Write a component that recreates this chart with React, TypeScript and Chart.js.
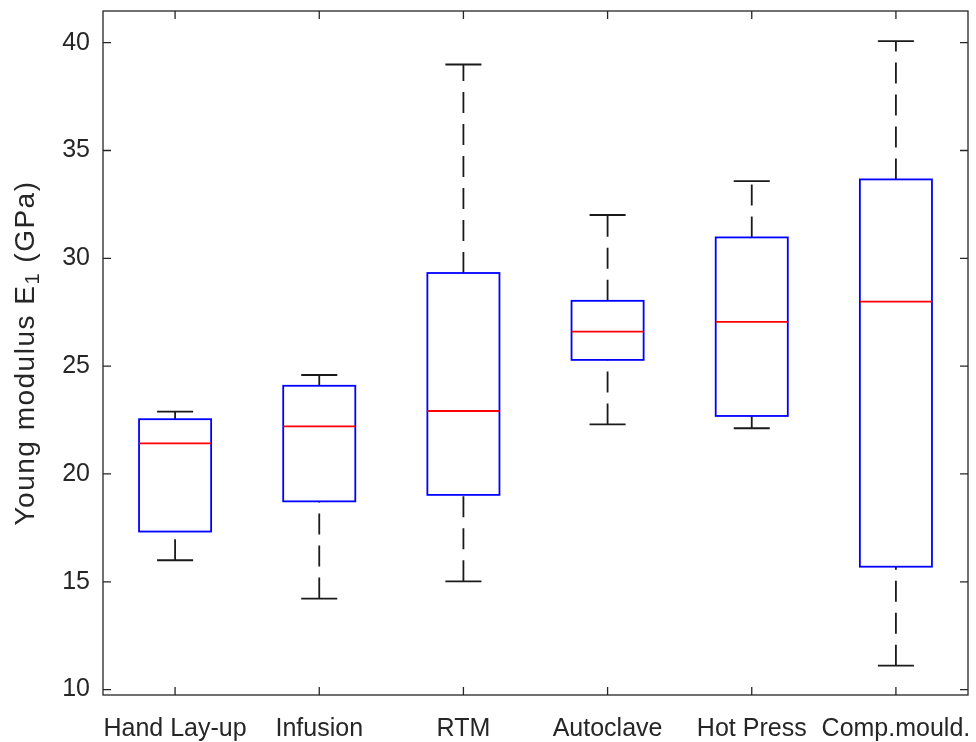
import React, { useEffect, useRef } from "react";
import { Chart, registerables } from "chart.js";

Chart.register(...registerables);

const categories = ["Hand Lay-up", "Infusion", "RTM", "Autoclave", "Hot Press", "Comp.mould."];
const whiskerLow = [16.0, 14.22, 15.02, 22.3, 22.12, 11.11];
const q1 = [17.33, 18.73, 19.03, 25.29, 22.69, 15.7];
const medians = [21.42, 22.21, 22.92, 26.6, 27.05, 27.99];
const q3 = [22.54, 24.09, 29.32, 28.03, 30.97, 33.66];
const whiskerHigh = [22.89, 24.59, 38.99, 32.01, 33.58, 40.07];
const yTicks = [10, 15, 20, 25, 30, 35, 40];

const FONT = "'Liberation Sans', Arial, Helvetica, sans-serif";
const TEXT = "#262626";

const boxPlugin = {
  id: "boxplotDraw",
  afterDatasetsDraw(chart: any) {
    const ctx = chart.ctx;
    const xs = chart.scales.x;
    const ys = chart.scales.y;
    ctx.save();
    categories.forEach((_, i) => {
      const cx = xs.getPixelForValue(i + 1);
      const half = xs.getPixelForValue(i + 1.25) - cx;
      const capHalf = xs.getPixelForValue(i + 1.125) - cx;
      const yLo = ys.getPixelForValue(whiskerLow[i]);
      const yQ1 = ys.getPixelForValue(q1[i]);
      const yMed = ys.getPixelForValue(medians[i]);
      const yQ3 = ys.getPixelForValue(q3[i]);
      const yHi = ys.getPixelForValue(whiskerHigh[i]);
      // whiskers (dashed)
      ctx.strokeStyle = "#1a1a1a";
      ctx.lineWidth = 1.8;
      ctx.setLineDash([21, 11]);
      ctx.beginPath();
      ctx.moveTo(cx, yLo);
      ctx.lineTo(cx, yQ1);
      ctx.stroke();
      ctx.beginPath();
      ctx.moveTo(cx, yQ3);
      ctx.lineTo(cx, yHi);
      ctx.stroke();
      ctx.setLineDash([]);
      // caps
      ctx.beginPath();
      ctx.moveTo(cx - capHalf, yLo);
      ctx.lineTo(cx + capHalf, yLo);
      ctx.moveTo(cx - capHalf, yHi);
      ctx.lineTo(cx + capHalf, yHi);
      ctx.stroke();
      // box
      ctx.strokeStyle = "#0000ff";
      ctx.lineWidth = 1.8;
      ctx.strokeRect(cx - half, yQ3, half * 2, yQ1 - yQ3);
      // median
      ctx.strokeStyle = "#ff0000";
      ctx.beginPath();
      ctx.moveTo(cx - half, yMed);
      ctx.lineTo(cx + half, yMed);
      ctx.stroke();
    });
    ctx.restore();
  },
  afterDraw(chart: any) {
    const ctx = chart.ctx;
    const { left, right, top, bottom } = chart.chartArea;
    const xs = chart.scales.x;
    const ys = chart.scales.y;
    ctx.save();
    ctx.strokeStyle = TEXT;
    ctx.lineWidth = 1.3;
    ctx.strokeRect(left, top, right - left, bottom - top);
    const tl = 8;
    ctx.beginPath();
    yTicks.forEach((v) => {
      const y = ys.getPixelForValue(v);
      ctx.moveTo(left, y);
      ctx.lineTo(left + tl, y);
      ctx.moveTo(right, y);
      ctx.lineTo(right - tl, y);
    });
    categories.forEach((_, i) => {
      const x = xs.getPixelForValue(i + 1);
      ctx.moveTo(x, bottom);
      ctx.lineTo(x, bottom - tl);
      ctx.moveTo(x, top);
      ctx.lineTo(x, top + tl);
    });
    ctx.stroke();

    // y-axis title with subscript
    const cy = (top + bottom) / 2;
    ctx.translate(34, cy);
    ctx.rotate(-Math.PI / 2);
    ctx.fillStyle = TEXT;
    ctx.textBaseline = "alphabetic";
    ctx.textAlign = "left";
    try {
      (ctx as any).letterSpacing = "1.5px";
    } catch (e) {}
    const big = `28px ${FONT}`;
    const small = `20px ${FONT}`;
    const p1 = "Young modulus E";
    const p2 = "1";
    const p3 = " (GPa)";
    ctx.font = big;
    const w1 = ctx.measureText(p1).width;
    const w3 = ctx.measureText(p3).width;
    ctx.font = small;
    const w2 = ctx.measureText(p2).width;
    let x0 = -(w1 + w2 + w3) / 2;
    ctx.font = big;
    ctx.fillText(p1, x0, 0);
    x0 += w1;
    ctx.font = small;
    ctx.fillText(p2, x0, 5);
    x0 += w2;
    ctx.font = big;
    ctx.fillText(p3, x0, 0);
    ctx.restore();
  },
};

export default function App() {
  const ref = useRef<HTMLCanvasElement | null>(null);
  useEffect(() => {
    document.body.style.margin = "0";
    if (!ref.current) return;
    const chart = new Chart(ref.current, {
      type: "scatter",
      data: { datasets: [{ data: [] }] },
      options: {
        animation: false,
        responsive: false,
        devicePixelRatio: 1,
        layout: { padding: { top: 11, right: 8, left: 0, bottom: 0 } },
        plugins: { legend: { display: false }, tooltip: { enabled: false } },
        scales: {
          x: {
            type: "linear",
            min: 0.5,
            max: 6.5,
            grid: { display: false, drawTicks: false },
            border: { display: false },
            afterBuildTicks: (scale: any) => {
              scale.ticks = categories.map((_, i) => ({ value: i + 1 }));
            },
            afterFit: (scale: any) => {
              scale.height = 47;
              scale.paddingLeft = 0;
              scale.paddingRight = 0;
            },
            ticks: {
              autoSkip: false,
              maxRotation: 0,
              minRotation: 0,
              padding: 19,
              color: TEXT,
              font: { family: FONT, size: 25 },
              callback: (_v: any, i: number) => categories[i],
            },
          },
          y: {
            type: "linear",
            min: 9.75,
            max: 41.47,
            grid: { display: false, drawTicks: false },
            border: { display: false },
            afterBuildTicks: (scale: any) => {
              scale.ticks = yTicks.map((v) => ({ value: v }));
            },
            afterFit: (scale: any) => {
              scale.width = 103;
              scale.paddingTop = 0;
              scale.paddingBottom = 0;
            },
            ticks: {
              padding: 13,
              color: TEXT,
              font: { family: FONT, size: 25 },
              callback: (v: any) => String(v),
            },
          },
        },
      },
      plugins: [boxPlugin],
    });
    return () => chart.destroy();
  }, []);
  return (
    <div style={{ position: "absolute", left: 0, top: 0, width: 976, height: 742, background: "#fff" }}>
      <canvas ref={ref} width={976} height={742} />
    </div>
  );
}
